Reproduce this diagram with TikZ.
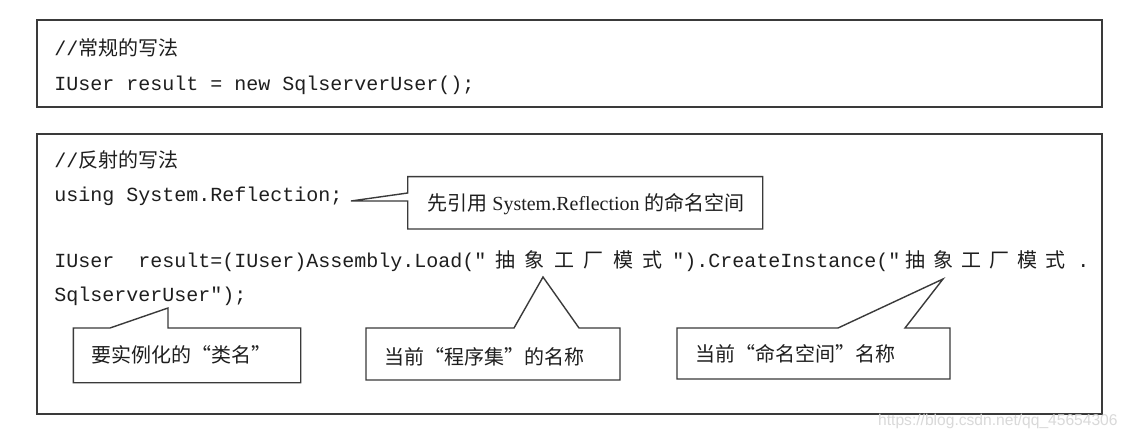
\documentclass[tikz,border=0pt]{standalone}
\usepackage{fontspec}
\setmainfont{Liberation Serif}
\setmonofont{Liberation Mono}
\newfontfamily\cjk{Noto Sans CJK SC}
\newfontfamily\wmfont{Liberation Sans}
\usetikzlibrary{positioning}
\definecolor{inkline}{HTML}{3A3A3A}
\definecolor{inktext}{HTML}{1E1E1E}
\tikzstyle{code} = [anchor=base west, inner sep=0pt, font=\ttfamily, text=inktext]
\tikzstyle{han} = [anchor=base, inner sep=0pt, font=\cjk, text=inktext]
\tikzstyle{note} = [anchor=base west, inner sep=0pt, text=inktext]
\tikzstyle{frame} = [draw=inkline, line width=1pt]
\tikzstyle{line} = [draw=inkline, line width=0.7pt, line join=miter]

\begin{document}
\begin{tikzpicture}[x=0.5pt, y=-0.5pt]
			\useasboundingbox [fill=white] (0,0) rectangle (1127,438);

			% upper box: the usual way
			\path [frame] (37,20) rectangle (1102,107);
			\node [code] (cmtA) at (54,56) {//{\cjk 常规的写法}};
			\node [code] (newline) at (54,91) {IUser result = new SqlserverUser();};

			% lower box: the reflection way
			\path [frame] (37,134) rectangle (1102,414);
			\node [code] (cmtB) at (54,168) {//{\cjk 反射的写法}};
			\node [code] (using) at (54,201) {using System.Reflection;};
			\node [code] (load) at (54,267) {IUser\ \ result=(IUser)Assembly.Load("};
			\foreach \ch [count=\i] in {抽,象,工,厂,模,式}
				\node [han] (asm\i) at ({505+(\i-1)*29.5},267) {\ch};
			\node [code] (create) at (672,267) {").CreateInstance("};
			\foreach \ch [count=\i] in {抽,象,工,厂,模,式}
				\node [han] (ns\i) at ({915+(\i-1)*28},267) {\ch};
			\node [code] (dot) at (1077,267) {.};
			\node [code] (cls) at (54,301) {SqlserverUser");};

			% callouts
			\node [note] (refnote) at (427,210) {{\cjk 先引用} System.Reflection {\cjk 的命名空间}};
			\coordinate (refTip) at (351,201);
			\path [line] (407.7,176.7) -- (762.7,176.7) -- (762.7,229) -- (407.7,229)
				-- (407.7,201) -- (refTip) -- (407.7,193) -- cycle;

			\node [note, font=\cjk] (clsnote) at (91,362) {要实例化的“类名”};
			\coordinate (clsTip) at (168,308);
			\path [line] (73.3,328) -- (110,328) -- (clsTip) -- (168,328) -- (300.7,328)
				-- (300.7,382.7) -- (73.3,382.7) -- cycle;

			\node [note, font=\cjk] (asmnote) at (384,364) {当前“程序集”的名称};
			\coordinate (asmTip) at (543,277);
			\path [line] (366,328) -- (514,328) -- (asmTip) -- (579,328) -- (620,328)
				-- (620,380) -- (366,380) -- cycle;

			\node [note, font=\cjk] (nsnote) at (695,361) {当前“命名空间”名称};
			\coordinate (nsTip) at (943,279);
			\path [line] (677,328) -- (838,328) -- (nsTip) -- (905,328) -- (950,328)
				-- (950,379) -- (677,379) -- cycle;

			% watermark
			\node [anchor=base east, inner sep=0pt, font=\wmfont\fontsize{7.8}{9}\selectfont, text=gray!30] (mark) at (1118,425) {https://blog.csdn.net/qq\_45654306};
		\end{tikzpicture}
\end{document}
